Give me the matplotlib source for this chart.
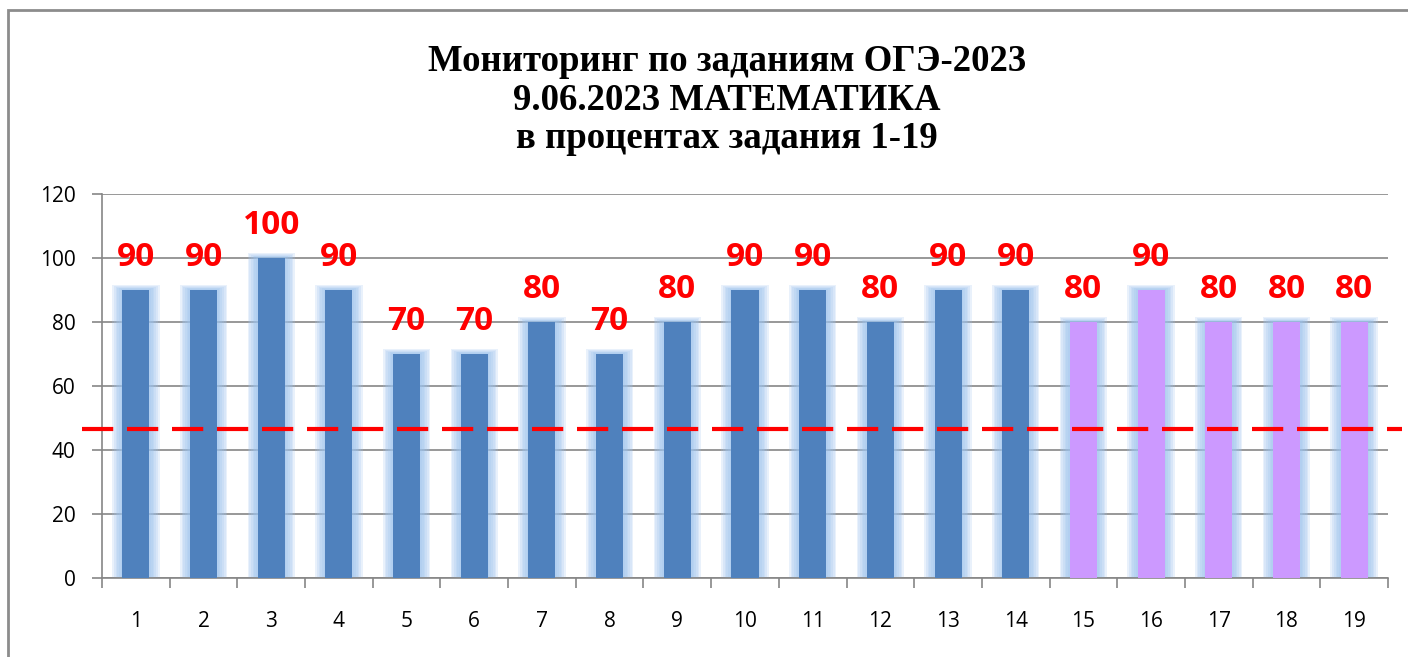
import matplotlib
matplotlib.use("Agg")
import matplotlib.pyplot as plt
from matplotlib.patches import Rectangle

tasks = [str(i) for i in range(1, 20)]
values = [90, 90, 100, 90, 70, 70, 80, 70, 80, 90, 90, 80, 90, 90, 80, 90, 80, 80, 80]
purple_from = 15   # tasks 15-19 drawn in lilac
threshold = 46.5
title = "Мониторинг по заданиям ОГЭ-2023\n9.06.2023 МАТЕМАТИКА\nв процентах задания 1-19"

blue = "#4F81BD"
lilac = "#CC99FF"
glow = "#9DC3EE"

fig = plt.figure(figsize=(14.08, 6.57), dpi=100)
# outer chart frame
fig.patches.append(Rectangle((8 / 1408, -0.05), 1.1, 1 - 10 / 657 + 0.05,
                             transform=fig.transFigure, fill=False,
                             edgecolor="#8C8C8C", linewidth=2))

ax = fig.add_axes([102 / 1408, 1 - 578 / 657, (1388 - 102) / 1408, (578 - 194) / 657])

x = list(range(len(values)))
colors = [lilac if int(t) >= purple_from else blue for t in tasks]
w = 0.4

# soft glow behind the bars
for k in range(6):
    ext = 0.025 * (6 - k)
    ax.bar(x, [v + ext * 10 for v in values], width=w + 2 * ext, color=glow,
           alpha=0.22, zorder=2, linewidth=0)
ax.bar(x, values, width=w, color=colors, zorder=3, linewidth=0)

for xi, v in zip(x, values):
    ax.text(xi, v + 7.5, str(v), ha="center", va="baseline", color="#FF0000",
            fontsize=24, fontweight="bold", family="Open Sans", zorder=5)

ax.plot([-0.8, len(values) - 0.3], [threshold, threshold], color="#FF0000",
        linestyle=(0, (7.5, 3.3)), linewidth=3, zorder=6, clip_on=False)

ax.set_xlim(-0.5, len(values) - 0.5)
ax.set_ylim(0, 120)
ax.set_yticks(range(0, 121, 20))
ax.set_xticks(x)
ax.set_xticklabels(tasks)
ax.set_xticks([i - 0.5 for i in range(len(values) + 1)], minor=True)
ax.tick_params(axis="x", which="major", length=0, pad=24, labelsize=15)
ax.tick_params(axis="x", which="minor", length=7, color="#868686", width=1.2)
ax.tick_params(axis="y", length=7, color="#868686", width=1.2, labelsize=15, pad=12)
for lab in ax.get_xticklabels() + ax.get_yticklabels():
    lab.set_family("Open Sans")
ax.yaxis.grid(True, color="#868686", linewidth=1.2, zorder=0)
ax.set_axisbelow(True)
for s in ["top", "right"]:
    ax.spines[s].set_visible(False)
for s in ["left", "bottom"]:
    ax.spines[s].set_color("#868686")
    ax.spines[s].set_linewidth(1.2)

fig.text(727 / 1408, 1 - 100 / 657, title, ha="center", va="center",
         family="Liberation Serif", fontweight="bold", fontsize=26.5,
         linespacing=1.12)

fig.savefig("out.png", dpi=100)
